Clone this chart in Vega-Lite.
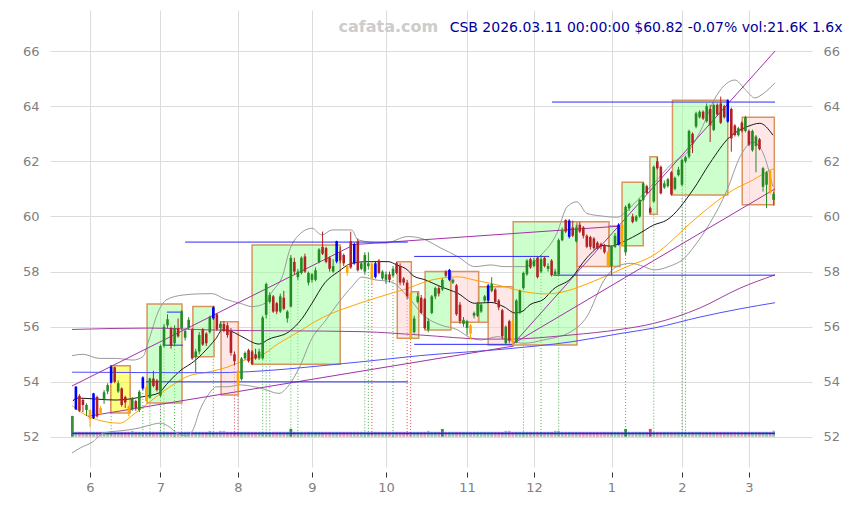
{
"$schema":"https://vega.github.io/schema/vega-lite/v6.json",
"width":762,"height":457,
"autosize":{"type":"none"},
"padding":{"left":50,"top":10,"right":40,"bottom":38},
"background":"white",
"config":{"view":{"stroke":null},"font":"DejaVu Sans","scale":{"continuousPadding":0}},
"datasets":{
"c":[
{"i":-5,"v":75},
{"i":-4,"o":53.0,"h":53.85,"l":52.98,"c":53.82,"k":"b","v":18},
{"i":-3,"o":53.49,"h":53.55,"l":52.9,"c":52.95,"k":"d","v":18},
{"i":-2,"o":53.34,"h":53.42,"l":52.9,"c":53.16,"k":"d","v":18},
{"i":-1,"o":52.98,"h":53.22,"l":52.76,"c":53.16,"k":"u","v":18},
{"i":0,"o":52.98,"h":53.0,"l":52.37,"c":52.66,"k":"o","v":18},
{"i":1,"o":52.68,"h":53.6,"l":52.65,"c":53.58,"k":"b","v":18},
{"i":2,"o":53.45,"h":53.5,"l":52.7,"c":52.75,"k":"d","v":18},
{"i":3,"o":53.05,"h":53.12,"l":52.8,"c":52.85,"k":"o","v":18},
{"i":4,"o":53.38,"h":53.7,"l":53.2,"c":53.62,"k":"u","v":18},
{"i":5,"o":53.65,"h":53.95,"l":53.55,"c":53.88,"k":"u","v":18},
{"i":6,"o":53.97,"h":54.6,"l":53.95,"c":54.55,"k":"b","v":18,"s":"g"},
{"i":7,"o":54.53,"h":54.55,"l":53.95,"c":54.0,"k":"d","v":18},
{"i":8,"o":53.65,"h":54.05,"l":53.6,"c":53.95,"k":"u","v":18},
{"i":9,"o":53.76,"h":53.8,"l":53.1,"c":53.16,"k":"d","v":18},
{"i":10,"o":53.45,"h":53.5,"l":53.05,"c":53.25,"k":"d","v":18},
{"i":11,"o":53.1,"h":53.15,"l":52.75,"c":52.9,"k":"o","v":18},
{"i":12,"o":53.0,"h":53.45,"l":52.95,"c":53.4,"k":"u","v":21},
{"i":13,"o":53.3,"h":53.35,"l":52.95,"c":53.05,"k":"d","v":18},
{"i":14,"o":52.98,"h":53.7,"l":52.9,"c":53.64,"k":"u","v":18},
{"i":15,"o":53.76,"h":54.2,"l":53.7,"c":54.16,"k":"b","v":18,"s":"g"},
{"i":16,"o":53.79,"h":53.85,"l":53.28,"c":53.3,"k":"o","v":18},
{"i":17,"o":53.42,"h":54.15,"l":53.4,"c":54.12,"k":"u","v":18,"s":"g"},
{"i":18,"o":54.12,"h":54.4,"l":53.8,"c":53.85,"k":"d","v":18},
{"i":19,"o":54.05,"h":54.1,"l":53.65,"c":53.7,"k":"d","v":18},
{"i":20,"o":53.5,"h":55.35,"l":53.45,"c":55.3,"k":"u","v":18,"s":"g"},
{"i":21,"o":55.3,"h":56.1,"l":55.25,"c":56.0,"k":"u","v":18,"s":"g"},
{"i":22,"o":56.05,"h":56.45,"l":55.95,"c":56.27,"k":"u","v":18},
{"i":23,"o":55.95,"h":56.0,"l":55.2,"c":55.3,"k":"d","v":18},
{"i":24,"o":55.4,"h":56.05,"l":55.3,"c":55.95,"k":"u","v":18,"s":"g"},
{"i":25,"o":55.95,"h":56.3,"l":55.6,"c":55.65,"k":"d","v":18},
{"i":26,"o":55.95,"h":56.6,"l":55.9,"c":56.55,"k":"u","v":18,"s":"g"},
{"i":27,"o":55.6,"h":55.9,"l":55.5,"c":55.85,"k":"u","v":18},
{"i":28,"o":55.95,"h":56.35,"l":55.9,"c":56.25,"k":"u","v":18},
{"i":29,"o":55.88,"h":55.95,"l":54.8,"c":54.85,"k":"d","v":18},
{"i":30,"o":54.9,"h":55.2,"l":54.33,"c":55.1,"k":"u","v":18},
{"i":31,"o":55.1,"h":55.8,"l":55.0,"c":55.7,"k":"u","v":18},
{"i":32,"o":55.9,"h":55.95,"l":55.3,"c":55.35,"k":"d","v":18},
{"i":33,"o":55.75,"h":55.8,"l":55.3,"c":55.4,"k":"d","v":18},
{"i":34,"o":55.8,"h":56.4,"l":55.75,"c":56.35,"k":"u","v":21},
{"i":35,"o":56.3,"h":56.75,"l":56.25,"c":56.7,"k":"b","v":18,"s":"g"},
{"i":36,"o":56.45,"h":56.5,"l":55.85,"c":55.9,"k":"d","v":18},
{"i":37,"o":55.95,"h":56.2,"l":55.85,"c":56.1,"k":"u","v":21},
{"i":38,"o":56.1,"h":56.2,"l":55.8,"c":55.85,"k":"d","v":21},
{"i":39,"o":56.05,"h":56.15,"l":55.6,"c":55.7,"k":"d","v":18},
{"i":40,"o":55.85,"h":55.95,"l":54.95,"c":55.05,"k":"d","v":18},
{"i":41,"o":55.0,"h":55.1,"l":54.6,"c":54.75,"k":"d","v":18,"s":"r"},
{"i":42,"o":54.37,"h":54.4,"l":53.6,"c":53.9,"k":"o","v":18,"s":"r"},
{"i":43,"o":54.1,"h":54.9,"l":54.05,"c":54.85,"k":"u","v":18},
{"i":44,"o":54.85,"h":55.1,"l":54.8,"c":55.05,"k":"u","v":18},
{"i":45,"o":55.15,"h":55.2,"l":54.7,"c":54.75,"k":"d","v":18},
{"i":46,"o":55.1,"h":55.15,"l":54.6,"c":54.65,"k":"d","v":18},
{"i":47,"o":55.0,"h":55.2,"l":54.8,"c":54.85,"k":"d","v":18},
{"i":48,"o":54.85,"h":55.2,"l":54.8,"c":55.1,"k":"u","v":18},
{"i":49,"o":54.85,"h":56.4,"l":54.8,"c":56.33,"k":"u","v":18,"s":"g"},
{"i":50,"o":56.43,"h":57.6,"l":56.3,"c":57.55,"k":"u","v":18,"s":"g"},
{"i":51,"o":56.9,"h":57.25,"l":56.85,"c":57.15,"k":"u","v":18,"s":"g"},
{"i":52,"o":57.1,"h":57.15,"l":56.5,"c":56.55,"k":"d","v":18},
{"i":53,"o":56.85,"h":56.9,"l":56.45,"c":56.55,"k":"d","v":18},
{"i":54,"o":56.55,"h":57.2,"l":56.5,"c":57.1,"k":"u","v":18},
{"i":55,"o":57.05,"h":57.3,"l":56.6,"c":56.65,"k":"d","v":18},
{"i":56,"o":56.3,"h":56.6,"l":56.15,"c":56.55,"k":"u","v":18},
{"i":57,"o":56.73,"h":58.6,"l":56.7,"c":58.5,"k":"u","v":28,"s":"g"},
{"i":58,"o":58.35,"h":58.5,"l":57.9,"c":58.0,"k":"d","v":18},
{"i":59,"o":57.8,"h":58.1,"l":57.7,"c":58.0,"k":"u","v":18,"s":"g"},
{"i":60,"o":57.95,"h":58.55,"l":57.9,"c":58.5,"k":"u","v":18},
{"i":61,"o":58.55,"h":58.65,"l":57.95,"c":58.0,"k":"d","v":18},
{"i":62,"o":57.6,"h":58.0,"l":57.5,"c":57.95,"k":"u","v":18},
{"i":63,"o":57.7,"h":57.95,"l":57.6,"c":57.9,"k":"u","v":18},
{"i":64,"o":57.7,"h":58.15,"l":57.65,"c":58.05,"k":"u","v":18},
{"i":65,"o":58.35,"h":58.85,"l":58.3,"c":58.8,"k":"u","v":18},
{"i":66,"o":58.9,"h":59.45,"l":58.6,"c":58.65,"k":"d","v":18},
{"i":67,"o":58.85,"h":58.9,"l":58.3,"c":58.35,"k":"d","v":18},
{"i":68,"o":58.5,"h":58.55,"l":58.0,"c":58.1,"k":"d","v":18},
{"i":69,"o":58.0,"h":58.45,"l":57.95,"c":58.2,"k":"u","v":18},
{"i":70,"o":58.36,"h":59.12,"l":58.3,"c":59.1,"k":"b","v":18},
{"i":71,"o":58.7,"h":58.9,"l":58.3,"c":58.4,"k":"d","v":18},
{"i":72,"o":58.6,"h":58.65,"l":58.2,"c":58.3,"k":"d","v":18},
{"i":73,"o":58.2,"h":58.25,"l":57.85,"c":57.95,"k":"o","v":18},
{"i":74,"o":59.1,"h":59.45,"l":58.1,"c":58.15,"k":"d","v":18},
{"i":75,"o":58.3,"h":59.05,"l":58.25,"c":59.0,"k":"b","v":18},
{"i":76,"o":59.1,"h":59.2,"l":58.0,"c":58.05,"k":"d","v":18},
{"i":77,"o":58.1,"h":58.35,"l":58.05,"c":58.3,"k":"u","v":18},
{"i":78,"o":58.0,"h":58.7,"l":57.9,"c":58.6,"k":"u","v":18,"s":"g"},
{"i":79,"o":58.2,"h":58.7,"l":58.1,"c":58.3,"k":"u","v":18,"s":"g"},
{"i":80,"o":58.3,"h":58.35,"l":57.55,"c":57.75,"k":"o","v":18,"s":"r"},
{"i":81,"o":57.8,"h":58.35,"l":57.75,"c":58.3,"k":"b","v":18},
{"i":82,"o":58.4,"h":58.45,"l":57.9,"c":57.95,"k":"d","v":18},
{"i":83,"o":57.75,"h":58.05,"l":57.7,"c":58.0,"k":"u","v":18},
{"i":84,"o":57.7,"h":58.0,"l":57.55,"c":57.9,"k":"u","v":18},
{"i":85,"o":57.9,"h":58.0,"l":57.6,"c":57.7,"k":"d","v":18},
{"i":86,"o":57.85,"h":58.2,"l":57.8,"c":58.1,"k":"u","v":18,"s":"g"},
{"i":87,"o":58.3,"h":58.35,"l":57.9,"c":57.95,"k":"d","v":18},
{"i":88,"o":58.2,"h":58.3,"l":57.5,"c":57.6,"k":"d","v":18},
{"i":89,"o":57.75,"h":57.8,"l":57.5,"c":57.6,"k":"d","v":18},
{"i":90,"o":57.6,"h":57.7,"l":57.0,"c":57.1,"k":"d","v":18,"s":"r"},
{"i":91,"o":57.2,"h":57.25,"l":55.55,"c":55.6,"k":"o","v":18,"s":"r"},
{"i":92,"o":55.8,"h":56.4,"l":55.75,"c":56.3,"k":"u","v":18},
{"i":93,"o":56.9,"h":57.25,"l":56.85,"c":57.1,"k":"u","v":18},
{"i":94,"o":57.05,"h":57.15,"l":56.45,"c":56.5,"k":"d","v":18},
{"i":95,"o":57.0,"h":57.05,"l":55.9,"c":55.95,"k":"d","v":18},
{"i":96,"o":55.9,"h":56.3,"l":55.8,"c":56.2,"k":"u","v":21},
{"i":97,"o":56.5,"h":57.15,"l":56.45,"c":57.1,"k":"u","v":18},
{"i":98,"o":57.1,"h":57.45,"l":57.0,"c":57.4,"k":"u","v":18},
{"i":99,"o":57.4,"h":57.5,"l":57.1,"c":57.2,"k":"d","v":18},
{"i":100,"o":57.35,"h":57.75,"l":57.3,"c":57.7,"k":"u","v":28},
{"i":101,"o":58.0,"h":58.05,"l":57.8,"c":57.85,"k":"d","v":18},
{"i":102,"o":57.7,"h":58.1,"l":57.65,"c":58.06,"k":"b","v":18},
{"i":103,"o":57.6,"h":57.75,"l":57.55,"c":57.7,"k":"u","v":18},
{"i":104,"o":57.5,"h":57.55,"l":56.4,"c":56.45,"k":"d","v":18},
{"i":105,"o":56.8,"h":56.9,"l":56.1,"c":56.2,"k":"d","v":18},
{"i":106,"o":56.1,"h":56.35,"l":56.0,"c":56.25,"k":"u","v":18},
{"i":107,"o":55.95,"h":56.25,"l":55.7,"c":56.2,"k":"u","v":18},
{"i":108,"o":56.05,"h":56.1,"l":55.55,"c":55.75,"k":"o","v":18},
{"i":109,"o":56.4,"h":56.55,"l":56.3,"c":56.5,"k":"u","v":18},
{"i":110,"o":56.4,"h":56.9,"l":56.35,"c":56.85,"k":"u","v":18},
{"i":111,"o":56.55,"h":56.85,"l":56.5,"c":56.8,"k":"u","v":18},
{"i":112,"o":56.95,"h":57.15,"l":56.9,"c":57.1,"k":"u","v":18},
{"i":113,"o":56.95,"h":57.55,"l":56.9,"c":57.5,"k":"b","v":18},
{"i":114,"o":57.3,"h":57.8,"l":57.25,"c":57.55,"k":"u","v":18},
{"i":115,"o":57.35,"h":57.4,"l":56.85,"c":56.9,"k":"d","v":18},
{"i":116,"o":56.95,"h":57.0,"l":56.6,"c":56.7,"k":"d","v":18},
{"i":117,"o":56.6,"h":56.65,"l":55.55,"c":55.65,"k":"d","v":18},
{"i":118,"o":55.4,"h":56.05,"l":55.35,"c":56.0,"k":"u","v":21},
{"i":119,"o":56.2,"h":56.25,"l":55.4,"c":55.5,"k":"d","v":21},
{"i":120,"o":56.2,"h":56.25,"l":55.35,"c":55.42,"k":"o","v":18},
{"i":121,"o":55.45,"h":57.0,"l":55.4,"c":56.95,"k":"u","v":18},
{"i":122,"o":56.5,"h":57.35,"l":56.45,"c":57.3,"k":"u","v":18},
{"i":123,"o":57.4,"h":58.0,"l":57.35,"c":57.95,"k":"u","v":18,"s":"g"},
{"i":124,"o":57.9,"h":58.45,"l":57.85,"c":58.4,"k":"u","v":18},
{"i":125,"o":58.45,"h":58.5,"l":58.1,"c":58.15,"k":"d","v":18},
{"i":126,"o":58.2,"h":58.5,"l":58.15,"c":58.4,"k":"u","v":18},
{"i":127,"o":58.5,"h":58.55,"l":57.75,"c":57.8,"k":"d","v":18},
{"i":128,"o":58.0,"h":58.6,"l":57.95,"c":58.45,"k":"u","v":18,"s":"g"},
{"i":129,"o":58.5,"h":58.55,"l":58.15,"c":58.2,"k":"d","v":18},
{"i":130,"o":58.1,"h":58.3,"l":58.0,"c":58.2,"k":"u","v":18},
{"i":131,"o":58.4,"h":58.45,"l":57.82,"c":57.87,"k":"d","v":18},
{"i":132,"o":57.9,"h":58.1,"l":57.85,"c":58.0,"k":"u","v":21},
{"i":133,"o":57.9,"h":59.2,"l":57.85,"c":59.14,"k":"u","v":21,"s":"g"},
{"i":134,"o":59.14,"h":59.6,"l":59.1,"c":59.5,"k":"u","v":18},
{"i":135,"o":59.87,"h":59.9,"l":59.4,"c":59.45,"k":"d","v":18},
{"i":136,"o":59.26,"h":59.9,"l":59.2,"c":59.85,"k":"b","v":18},
{"i":137,"o":59.6,"h":59.85,"l":59.25,"c":59.3,"k":"d","v":18},
{"i":138,"o":59.1,"h":59.7,"l":59.05,"c":59.6,"k":"u","v":18},
{"i":139,"o":59.7,"h":59.8,"l":59.4,"c":59.45,"k":"d","v":18},
{"i":140,"o":59.6,"h":59.65,"l":59.2,"c":59.3,"k":"d","v":18},
{"i":141,"o":59.3,"h":59.35,"l":58.85,"c":58.9,"k":"d","v":18},
{"i":142,"o":59.25,"h":59.3,"l":58.8,"c":58.9,"k":"d","v":18},
{"i":143,"o":59.2,"h":59.25,"l":58.8,"c":58.85,"k":"d","v":18},
{"i":144,"o":59.05,"h":59.1,"l":58.8,"c":58.85,"k":"d","v":18},
{"i":145,"o":59.0,"h":59.05,"l":58.8,"c":58.9,"k":"d","v":18},
{"i":146,"o":58.95,"h":59.0,"l":58.65,"c":58.7,"k":"d","v":18},
{"i":147,"o":58.7,"h":58.75,"l":58.15,"c":58.2,"k":"o","v":18},
{"i":148,"o":58.2,"h":58.95,"l":57.85,"c":58.9,"k":"u","v":18},
{"i":149,"o":58.9,"h":59.4,"l":58.85,"c":59.3,"k":"u","v":18},
{"i":150,"o":58.97,"h":59.75,"l":58.95,"c":59.7,"k":"b","v":18},
{"i":151,"o":59.7,"h":59.8,"l":58.9,"c":58.95,"k":"o","v":18},
{"i":152,"o":58.7,"h":60.4,"l":58.6,"c":60.35,"k":"u","v":28,"s":"g"},
{"i":153,"o":60.3,"h":60.5,"l":60.2,"c":60.45,"k":"u","v":18},
{"i":154,"o":60.0,"h":60.1,"l":59.75,"c":59.8,"k":"d","v":18},
{"i":155,"o":59.85,"h":60.05,"l":59.8,"c":60.0,"k":"u","v":18},
{"i":156,"o":60.0,"h":60.65,"l":59.95,"c":60.6,"k":"u","v":18},
{"i":157,"o":60.6,"h":61.25,"l":60.55,"c":61.2,"k":"u","v":18},
{"i":158,"o":61.1,"h":61.15,"l":60.8,"c":60.85,"k":"d","v":18},
{"i":159,"o":60.3,"h":60.35,"l":60.1,"c":60.14,"k":"d","v":28},
{"i":160,"o":60.54,"h":61.85,"l":60.5,"c":61.8,"k":"u","v":18,"s":"g"},
{"i":161,"o":62.0,"h":62.15,"l":61.7,"c":61.75,"k":"d","v":18},
{"i":162,"o":61.8,"h":61.85,"l":60.8,"c":60.84,"k":"d","v":18},
{"i":163,"o":61.05,"h":61.3,"l":61.0,"c":61.2,"k":"u","v":18},
{"i":164,"o":61.1,"h":61.4,"l":61.05,"c":61.35,"k":"u","v":18},
{"i":165,"o":61.6,"h":61.65,"l":60.75,"c":60.8,"k":"d","v":18},
{"i":166,"o":61.0,"h":61.45,"l":60.95,"c":61.4,"k":"u","v":18},
{"i":167,"o":61.5,"h":61.8,"l":61.45,"c":61.7,"k":"u","v":18},
{"i":168,"o":61.15,"h":62.1,"l":61.1,"c":62.05,"k":"u","v":18,"s":"g"},
{"i":169,"o":62.0,"h":62.2,"l":61.95,"c":62.15,"k":"u","v":18,"s":"g"},
{"i":170,"o":62.17,"h":63.15,"l":62.1,"c":63.1,"k":"u","v":18},
{"i":171,"o":63.0,"h":63.05,"l":62.3,"c":62.65,"k":"d","v":18},
{"i":172,"o":63.26,"h":63.8,"l":63.2,"c":63.74,"k":"u","v":18},
{"i":173,"o":63.6,"h":63.85,"l":63.55,"c":63.8,"k":"u","v":18},
{"i":174,"o":63.8,"h":63.85,"l":63.5,"c":63.55,"k":"d","v":18},
{"i":175,"o":63.45,"h":64.1,"l":63.4,"c":64.0,"k":"u","v":18},
{"i":176,"o":63.9,"h":64.05,"l":62.7,"c":63.3,"k":"d","v":18},
{"i":177,"o":63.14,"h":64.1,"l":63.1,"c":64.04,"k":"u","v":18},
{"i":178,"o":64.05,"h":64.1,"l":63.65,"c":63.7,"k":"d","v":18},
{"i":179,"o":64.1,"h":64.35,"l":63.35,"c":63.4,"k":"d","v":18},
{"i":180,"o":64.0,"h":64.05,"l":63.55,"c":63.6,"k":"d","v":18},
{"i":181,"o":63.44,"h":64.25,"l":63.4,"c":64.22,"k":"b","v":18},
{"i":182,"o":63.9,"h":63.95,"l":62.35,"c":62.83,"k":"d","v":18},
{"i":183,"o":63.3,"h":63.35,"l":62.9,"c":62.95,"k":"d","v":18},
{"i":184,"o":62.95,"h":63.25,"l":62.9,"c":63.2,"k":"u","v":18},
{"i":185,"o":63.4,"h":63.45,"l":63.05,"c":63.1,"k":"d","v":18},
{"i":186,"o":63.1,"h":63.65,"l":63.05,"c":63.6,"k":"u","v":18},
{"i":187,"o":63.1,"h":63.15,"l":62.55,"c":62.6,"k":"d","v":18},
{"i":188,"o":62.4,"h":63.15,"l":62.35,"c":63.1,"k":"u","v":18},
{"i":189,"o":62.55,"h":62.95,"l":61.6,"c":62.9,"k":"u","v":18},
{"i":190,"o":62.8,"h":62.85,"l":62.4,"c":62.45,"k":"d","v":18},
{"i":191,"o":61.08,"h":61.8,"l":60.9,"c":61.75,"k":"u","v":18},
{"i":192,"o":61.15,"h":61.65,"l":60.3,"c":61.6,"k":"u","v":18},
{"i":193,"o":61.65,"h":61.7,"l":60.8,"c":60.86,"k":"o","v":18},
{"i":194,"o":60.6,"h":60.9,"l":60.4,"c":60.82,"k":"u","v":21.6}
],
"ln":[
{"s":"k","i":-4.8,"v":53.3},{"s":"k","i":-4,"v":53.41},{"s":"k","i":7.4,"v":53.34},{"s":"k","i":15,"v":53.46},{"s":"k","i":19.6,"v":53.6},{"s":"k","i":21.6,"v":53.89},{"s":"k","i":25.3,"v":54.37},{"s":"k","i":30.1,"v":54.8},{"s":"k","i":33.8,"v":55.28},{"s":"k","i":35.8,"v":55.58},{"s":"k","i":37.5,"v":55.88},{"s":"k","i":40.3,"v":55.82},{"s":"k","i":43.1,"v":55.64},{"s":"k","i":48,"v":55.37},{"s":"k","i":50.8,"v":55.55},{"s":"k","i":56.5,"v":55.82},{"s":"k","i":60.2,"v":56.3},{"s":"k","i":63,"v":56.85},{"s":"k","i":66.7,"v":57.6},{"s":"k","i":70.4,"v":57.99},{"s":"k","i":74.3,"v":58.3},{"s":"k","i":78.6,"v":58.36},{"s":"k","i":84.6,"v":58.36},{"s":"k","i":87.1,"v":58.24},{"s":"k","i":90.2,"v":58.05},{"s":"k","i":91.7,"v":57.85},{"s":"k","i":95.1,"v":57.7},{"s":"k","i":99.6,"v":57.45},{"s":"k","i":104.4,"v":57.21},{"s":"k","i":109.2,"v":56.85},{"s":"k","i":113.8,"v":56.88},{"s":"k","i":117.5,"v":56.72},{"s":"k","i":120.6,"v":56.5},{"s":"k","i":122.6,"v":56.55},{"s":"k","i":124.9,"v":56.8},{"s":"k","i":128.8,"v":57.0},{"s":"k","i":131.4,"v":57.35},{"s":"k","i":136.5,"v":57.75},{"s":"k","i":141,"v":58.5},{"s":"k","i":145.6,"v":58.95},{"s":"k","i":147.8,"v":58.92},{"s":"k","i":150.4,"v":59.03},{"s":"k","i":155.2,"v":59.33},{"s":"k","i":160,"v":59.69},{"s":"k","i":163.7,"v":59.87},{"s":"k","i":171.1,"v":60.96},{"s":"k","i":175.9,"v":61.93},{"s":"k","i":181.6,"v":62.89},{"s":"k","i":186.4,"v":63.25},{"s":"k","i":190.1,"v":63.38},{"s":"k","i":193.8,"v":62.95},
{"s":"o","i":-5.1,"v":53.14},{"s":"o","i":0,"v":52.72},{"s":"o","i":8.5,"v":52.5},{"s":"o","i":12.2,"v":52.8},{"s":"o","i":17,"v":53.28},{"s":"o","i":22.7,"v":53.82},{"s":"o","i":27.5,"v":54.19},{"s":"o","i":34.1,"v":54.37},{"s":"o","i":38.9,"v":54.53},{"s":"o","i":44,"v":54.79},{"s":"o","i":48.8,"v":54.97},{"s":"o","i":53.6,"v":55.4},{"s":"o","i":59.3,"v":55.82},{"s":"o","i":63.8,"v":56.18},{"s":"o","i":68.7,"v":56.49},{"s":"o","i":72.4,"v":56.67},{"s":"o","i":77.2,"v":56.88},{"s":"o","i":85.4,"v":57.21},{"s":"o","i":90.2,"v":57.39},{"s":"o","i":95.1,"v":57.63},{"s":"o","i":99.6,"v":57.76},{"s":"o","i":104.4,"v":57.81},{"s":"o","i":109.2,"v":57.69},{"s":"o","i":113.8,"v":57.57},{"s":"o","i":118.6,"v":57.42},{"s":"o","i":123.2,"v":57.27},{"s":"o","i":129.7,"v":57.19},{"s":"o","i":134.5,"v":57.27},{"s":"o","i":140.2,"v":57.51},{"s":"o","i":145.9,"v":57.81},{"s":"o","i":152.4,"v":58.18},{"s":"o","i":160,"v":58.6},{"s":"o","i":161.7,"v":58.75},{"s":"o","i":170.3,"v":59.75},{"s":"o","i":175.9,"v":60.35},{"s":"o","i":182.5,"v":60.96},{"s":"o","i":188.1,"v":61.32},{"s":"o","i":193,"v":61.68},{"s":"o","i":194.4,"v":61.75},
{"s":"u","i":-5.1,"v":54.95},{"s":"u","i":-2,"v":55.0},{"s":"u","i":2.6,"v":54.85},{"s":"u","i":7.4,"v":54.85},{"s":"u","i":12.2,"v":54.79},{"s":"u","i":15,"v":54.91},{"s":"u","i":16.7,"v":55.52},{"s":"u","i":19.6,"v":56.61},{"s":"u","i":21.6,"v":56.97},{"s":"u","i":26.4,"v":57.15},{"s":"u","i":30.9,"v":57.19},{"s":"u","i":34.6,"v":57.2},{"s":"u","i":38.3,"v":57.0},{"s":"u","i":42.6,"v":56.85},{"s":"u","i":46,"v":56.73},{"s":"u","i":49.7,"v":56.85},{"s":"u","i":51.6,"v":57.25},{"s":"u","i":54.8,"v":57.9},{"s":"u","i":56.5,"v":58.72},{"s":"u","i":59.3,"v":59.33},{"s":"u","i":63,"v":59.57},{"s":"u","i":65.8,"v":59.33},{"s":"u","i":68.7,"v":59.51},{"s":"u","i":74.3,"v":59.51},{"s":"u","i":76,"v":59.15},{"s":"u","i":83.7,"v":59.03},{"s":"u","i":90.2,"v":59.27},{"s":"u","i":93.9,"v":59.21},{"s":"u","i":99.6,"v":58.85},{"s":"u","i":104.4,"v":58.54},{"s":"u","i":109.2,"v":58.18},{"s":"u","i":113.8,"v":58.24},{"s":"u","i":117.5,"v":58.18},{"s":"u","i":123.2,"v":58.18},{"s":"u","i":128,"v":58.6},{"s":"u","i":132.5,"v":59.39},{"s":"u","i":135.4,"v":60.35},{"s":"u","i":138.2,"v":60.53},{"s":"u","i":141,"v":60.11},{"s":"u","i":145,"v":60.02},{"s":"u","i":149.5,"v":59.97},{"s":"u","i":153.5,"v":60.35},{"s":"u","i":157.2,"v":60.84},{"s":"u","i":160,"v":61.2},{"s":"u","i":165,"v":61.9},{"s":"u","i":170,"v":62.4},{"s":"u","i":174,"v":63.3},{"s":"u","i":177,"v":64.2},{"s":"u","i":180,"v":64.75},{"s":"u","i":183,"v":64.95},{"s":"u","i":186,"v":64.6},{"s":"u","i":188.7,"v":64.3},{"s":"u","i":191,"v":64.45},{"s":"u","i":194.4,"v":64.85},
{"s":"l","i":-5.1,"v":51.42},{"s":"l","i":-2.8,"v":51.6},{"s":"l","i":0.9,"v":51.83},{"s":"l","i":3.7,"v":52.14},{"s":"l","i":10.5,"v":52.25},{"s":"l","i":14.2,"v":52.33},{"s":"l","i":17,"v":52.43},{"s":"l","i":19.9,"v":52.5},{"s":"l","i":22.7,"v":52.35},{"s":"l","i":24.7,"v":52.13},{"s":"l","i":27.5,"v":52.04},{"s":"l","i":29.2,"v":52.25},{"s":"l","i":31.2,"v":52.98},{"s":"l","i":33.2,"v":53.46},{"s":"l","i":36,"v":53.82},{"s":"l","i":38.9,"v":53.82},{"s":"l","i":42.6,"v":53.89},{"s":"l","i":45.4,"v":53.85},{"s":"l","i":48.8,"v":53.76},{"s":"l","i":53.6,"v":53.58},{"s":"l","i":56.5,"v":53.89},{"s":"l","i":59.3,"v":54.49},{"s":"l","i":63,"v":55.58},{"s":"l","i":66.7,"v":56.2},{"s":"l","i":70.7,"v":56.9},{"s":"l","i":74.3,"v":57.45},{"s":"l","i":77.2,"v":57.8},{"s":"l","i":80.9,"v":57.7},{"s":"l","i":85.4,"v":57.63},{"s":"l","i":90.2,"v":57.09},{"s":"l","i":95.1,"v":56.36},{"s":"l","i":99.6,"v":56.06},{"s":"l","i":104.4,"v":55.88},{"s":"l","i":107.3,"v":55.64},{"s":"l","i":111,"v":55.52},{"s":"l","i":115.8,"v":55.64},{"s":"l","i":118.6,"v":55.52},{"s":"l","i":123.2,"v":55.4},{"s":"l","i":128.8,"v":55.52},{"s":"l","i":136.5,"v":55.82},{"s":"l","i":141,"v":56.36},{"s":"l","i":145.9,"v":57.69},{"s":"l","i":149.5,"v":58.18},{"s":"l","i":153.5,"v":58.3},{"s":"l","i":157.2,"v":58.18},{"s":"l","i":160,"v":58.06},{"s":"l","i":164.6,"v":58.2},{"s":"l","i":168.8,"v":58.5},{"s":"l","i":171.1,"v":58.85},{"s":"l","i":175.9,"v":59.75},{"s":"l","i":180.8,"v":60.96},{"s":"l","i":184.5,"v":62.17},{"s":"l","i":188.1,"v":62.7},{"s":"l","i":191,"v":62.3},{"s":"l","i":193.8,"v":61.08},
{"s":"pc","i":-5.1,"v":55.9},{"s":"pc","i":17,"v":55.95},{"s":"pc","i":34.6,"v":55.88},{"s":"pc","i":77.2,"v":55.82},{"s":"pc","i":93.6,"v":55.7},{"s":"pc","i":112.7,"v":55.55},{"s":"pc","i":118.6,"v":55.55},{"s":"pc","i":136.5,"v":55.7},{"s":"pc","i":150.4,"v":55.9},{"s":"pc","i":160,"v":56.12},{"s":"pc","i":173.1,"v":56.68},{"s":"pc","i":184.5,"v":57.4},{"s":"pc","i":194.4,"v":57.88},
{"s":"bc","i":-5.1,"v":54.35},{"s":"bc","i":34.6,"v":54.33},{"s":"bc","i":77.2,"v":54.73},{"s":"bc","i":93.6,"v":54.95},{"s":"bc","i":118.6,"v":55.2},{"s":"bc","i":136.5,"v":55.45},{"s":"bc","i":150.4,"v":55.75},{"s":"bc","i":160,"v":55.95},{"s":"bc","i":173.1,"v":56.35},{"s":"bc","i":184.5,"v":56.65},{"s":"bc","i":194.4,"v":56.87}
],
"tl":[
{"g":"a","i":-5.1,"v":53.85},{"g":"a","i":73.8,"v":58.9},
{"g":"b","i":73.8,"v":58.97},{"g":"b","i":150.4,"v":59.65},
{"g":"c","i":120.3,"v":55.4},{"g":"c","i":194.4,"v":66.0},
{"g":"d","i":-0.6,"v":52.75},{"g":"d","i":120.3,"v":55.3},
{"g":"e","i":120.3,"v":55.4},{"g":"e","i":194.4,"v":61.0}
],
"hl":[
{"i0":27.0,"i1":90.2,"v":59.07},
{"i0":15.9,"i1":90.2,"v":54.0},
{"i0":92.0,"i1":130.3,"v":58.55},
{"i0":92.0,"i1":119.8,"v":55.36},
{"i0":131.4,"i1":194.4,"v":57.87},
{"i0":131.1,"i1":194.4,"v":64.15},
{"i0":21.8,"i1":26.4,"v":56.53},
{"i0":20.7,"i1":26.4,"v":55.33}
],
"bx":[
{"i0":5.9,"i1":11.4,"lo":52.87,"hi":54.58,"t":"y"},
{"i0":16.2,"i1":26.1,"lo":53.23,"hi":56.82,"t":"g"},
{"i0":29.2,"i1":35.2,"lo":54.91,"hi":56.73,"t":"g"},
{"i0":37.2,"i1":42.1,"lo":53.52,"hi":56.18,"t":"p"},
{"i0":46.0,"i1":71.0,"lo":54.64,"hi":58.96,"t":"g"},
{"i0":87.2,"i1":91.2,"lo":55.58,"hi":58.36,"t":"p"},
{"i0":91.2,"i1":93.3,"lo":55.58,"hi":57.27,"t":"g"},
{"i0":95.1,"i1":102.4,"lo":55.88,"hi":58.0,"t":"g"},
{"i0":102.4,"i1":110.3,"lo":56.16,"hi":58.0,"t":"p"},
{"i0":110.3,"i1":113.0,"lo":56.16,"hi":57.45,"t":"g"},
{"i0":113.0,"i1":120.1,"lo":55.34,"hi":57.45,"t":"p"},
{"i0":120.1,"i1":138.2,"lo":55.34,"hi":59.81,"t":"g"},
{"i0":138.2,"i1":147.3,"lo":58.18,"hi":59.81,"t":"p"},
{"i0":147.3,"i1":150.4,"lo":58.18,"hi":59.65,"t":"g"},
{"i0":151.0,"i1":157.0,"lo":58.94,"hi":61.24,"t":"g"},
{"i0":158.9,"i1":161.0,"lo":60.08,"hi":62.17,"t":"g"},
{"i0":165.3,"i1":181.0,"lo":60.78,"hi":64.22,"t":"g"},
{"i0":185.1,"i1":194.2,"lo":60.42,"hi":63.6,"t":"p"}
],
"vm":[{"i":-5,"v":12},{"i":194.4,"v":12}]
},
"resolve":{"scale":{"y":"independent","color":"independent"},"axis":{"y":"independent"}},
"layer":[
{"data":{"name":"c"},"transform":[{"filter":"datum.s"}],
 "mark":{"type":"rule","strokeDash":[1,2],"strokeWidth":1,"opacity":0.85},
 "encoding":{
  "x":{"field":"i","type":"quantitative","scale":{"domain":[-11.35,204.9],"nice":false,"zero":false,"padding":0},
   "axis":{"values":[0,20,42,63,84,107,126,148,168,187],"labelExpr":"['6','7','8','9','10','11','12','1','2','3'][indexof([0,20,42,63,84,107,126,148,168,187], datum.value)]","grid":true,"gridColor":"#dcdcdc","domain":false,"ticks":true,"tickSize":5,"tickColor":"#333333","offset":5,"labelPadding":4,"labelFontSize":13,"labelColor":"#808080","labelFont":"DejaVu Sans","title":null}},
  "y":{"field":"l","type":"quantitative","scale":{"domain":[50.91,67.49],"nice":false,"zero":false},
   "axis":{"orient":"left","values":[52,54,56,58,60,62,64,66],"grid":true,"gridColor":"#dcdcdc","domain":false,"ticks":false,"tickSize":0,"labelPadding":11,"labelFontSize":13,"labelColor":"#808080","labelFont":"DejaVu Sans","title":"cafata.com","titleAngle":0,"titleX":288,"titleY":21,"titleAlign":"left","titleBaseline":"alphabetic","titleColor":"#cccccc","titleFontSize":16,"titleFontWeight":"bold","titleFont":"DejaVu Sans"}},
  "y2":{"datum":52.0},
  "color":{"field":"s","type":"nominal","scale":{"domain":["g","r"],"range":["#2ca02c","#d62728"]},"legend":null}
 }},
{"data":{"name":"bx"},
 "mark":{"type":"rect","fillOpacity":0.5,"stroke":"#d8955f","strokeWidth":1.5},
 "encoding":{
  "x":{"field":"i0","type":"quantitative","scale":{"domain":[-11.35,204.9],"nice":false,"zero":false,"padding":0}},
  "x2":{"field":"i1"},
  "y":{"field":"lo","type":"quantitative","scale":{"domain":[50.91,67.49],"nice":false,"zero":false},"axis":null},
  "y2":{"field":"hi"},
  "color":{"field":"t","type":"nominal","scale":{"domain":["g","p","y"],"range":["#99ff99","#ffd0d0","#ffff00"]},"legend":null}
 }},
{"data":{"name":"c"},
 "mark":{"type":"bar","width":2.8},
 "encoding":{
  "x":{"field":"i","type":"quantitative","scale":{"domain":[-11.35,204.9],"nice":false,"zero":false,"padding":0}},
  "y":{"field":"v","type":"quantitative","scale":{"domain":[-109,1536],"nice":false,"zero":false},"axis":null},
  "y2":{"datum":0},
  "color":{"condition":{"test":"datum.c < datum.o","value":"#c0404a"},"value":"#2e8b2e"},
  "opacity":{"condition":{"test":"datum.v > 25","value":0.95},"value":0.5}
 }},
{"data":{"name":"vm"},
 "mark":{"type":"line","color":"#2020ff","strokeWidth":1.6},
 "encoding":{
  "x":{"field":"i","type":"quantitative","scale":{"domain":[-11.35,204.9],"nice":false,"zero":false,"padding":0}},
  "y":{"field":"v","type":"quantitative","scale":{"domain":[-109,1536],"nice":false,"zero":false},"axis":null}
 }},
{"data":{"name":"ln"},
 "mark":{"type":"line","interpolate":"monotone"},
 "encoding":{
  "x":{"field":"i","type":"quantitative","scale":{"domain":[-11.35,204.9],"nice":false,"zero":false,"padding":0}},
  "y":{"field":"v","type":"quantitative","scale":{"domain":[50.91,67.49],"nice":false,"zero":false},"axis":null},
  "color":{"field":"s","type":"nominal","scale":{"domain":["k","o","u","l","pc","bc"],"range":["#1a1a1a","#ffa500","#9a9a9a","#9a9a9a","#a040a0","#5050ff"]},"legend":null},
  "strokeWidth":{"field":"s","type":"nominal","scale":{"domain":["k","o","u","l","pc","bc"],"range":[1,1,1,1,1.2,1.6]},"legend":null}
 }},
{"data":{"name":"tl"},
 "mark":{"type":"line","color":"#a032a8","strokeWidth":1},
 "encoding":{
  "x":{"field":"i","type":"quantitative","scale":{"domain":[-11.35,204.9],"nice":false,"zero":false,"padding":0}},
  "y":{"field":"v","type":"quantitative","scale":{"domain":[50.91,67.49],"nice":false,"zero":false},"axis":null},
  "detail":{"field":"g","type":"nominal"}
 }},
{"data":{"name":"hl"},
 "mark":{"type":"rule","color":"#2a2aff","strokeWidth":1},
 "encoding":{
  "x":{"field":"i0","type":"quantitative","scale":{"domain":[-11.35,204.9],"nice":false,"zero":false,"padding":0}},
  "x2":{"field":"i1"},
  "y":{"field":"v","type":"quantitative","scale":{"domain":[50.91,67.49],"nice":false,"zero":false},"axis":null}
 }},
{"data":{"name":"c"},
 "mark":{"type":"rule","strokeWidth":1},
 "encoding":{
  "x":{"field":"i","type":"quantitative","scale":{"domain":[-11.35,204.9],"nice":false,"zero":false,"padding":0}},
  "y":{"field":"l","type":"quantitative","scale":{"domain":[50.91,67.49],"nice":false,"zero":false},"axis":null},
  "y2":{"field":"h"},
  "color":{"field":"k","type":"nominal","scale":{"domain":["u","d","b","o"],"range":["#228b22","#b22222","#0000ff","#ffa500"]},"legend":null}
 }},
{"data":{"name":"c"},
 "mark":{"type":"bar","width":2.6},
 "encoding":{
  "x":{"field":"i","type":"quantitative","scale":{"domain":[-11.35,204.9],"nice":false,"zero":false,"padding":0}},
  "y":{"field":"o","type":"quantitative","scale":{"domain":[50.91,67.49],"nice":false,"zero":false},
   "axis":{"orient":"right","values":[52,54,56,58,60,62,64,66],"grid":false,"domain":false,"ticks":false,"tickSize":0,"labelPadding":11,"labelFontSize":13,"labelColor":"#808080","labelFont":"DejaVu Sans","title":"CSB 2026.03.11 00:00:00 $60.82 -0.07% vol:21.6K 1.6x","titleAngle":0,"titleX":30,"titleY":21,"titleAlign":"right","titleBaseline":"alphabetic","titleColor":"#000099","titleFontSize":14,"titleFontWeight":"normal","titleFont":"DejaVu Sans"}},
  "y2":{"field":"c"},
  "color":{"field":"k","type":"nominal","scale":{"domain":["u","d","b","o"],"range":["#228b22","#b22222","#0000ff","#ffa500"]},"legend":null}
 }}
]
}
